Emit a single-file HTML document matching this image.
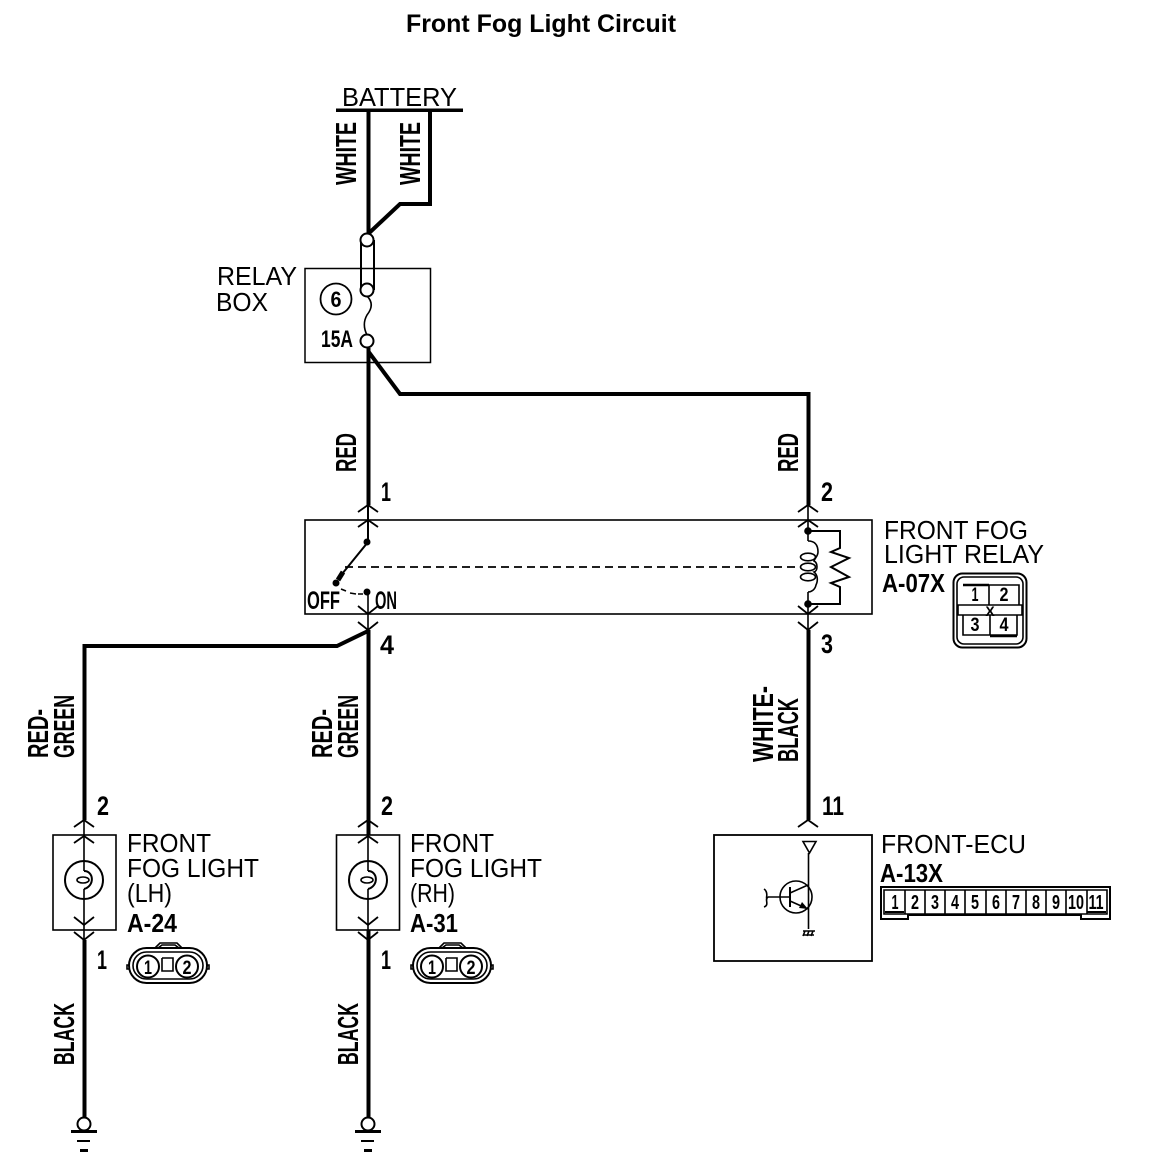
<!DOCTYPE html>
<html><head><meta charset="utf-8"><style>
html,body{margin:0;padding:0;background:#fff}
svg{display:block}
text{font-family:"Liberation Sans",sans-serif;fill:#000}
.t{font-size:26px}
.b{font-weight:bold;font-size:26px}
.r{font-weight:bold;font-size:29px}
.d{font-weight:bold;font-size:27px}
.n{font-weight:bold;font-size:19px}
.w{fill:none;stroke:#000;stroke-width:4;stroke-linejoin:miter}
.l{fill:none;stroke:#000;stroke-width:1.6}
.m{fill:none;stroke:#000;stroke-width:2}
</style></head><body>
<svg width="1152" height="1174" viewBox="0 0 1152 1174" xmlns="http://www.w3.org/2000/svg">
<defs>
<path id="up" d="M-10 7L0 0L10 7" fill="none" stroke="#000" stroke-width="1.800"/>
<path id="dn" d="M-10 -8L0 0L10 -8" fill="none" stroke="#000" stroke-width="1.800"/>
<g id="gnd"><circle cx="0" cy="0" r="6.500" fill="#fff" stroke="#000" stroke-width="2"/><rect x="-13" y="6" width="26" height="3"/><rect x="-7" y="16" width="13" height="2"/><rect x="-4" y="25" width="8" height="3"/></g>
<g id="conn2">
<path d="M-13 -17L-8 -22H9L14 -17" class="l"/><path d="M-10 -17L-6 -20H7L11 -17" class="l"/>
<rect x="-39" y="-17" width="78" height="35" rx="17.500" fill="#fff" stroke="#000" stroke-width="2"/>
<rect x="-35" y="-13" width="70" height="27" rx="13.500" class="l"/>
<path d="M-39 0h-2v4h2M39 0h2v4h-2" class="l"/>
<circle cx="-20" cy="1.500" r="11" fill="#fff" stroke="#000" stroke-width="2"/><circle cx="19" cy="1.500" r="11" fill="#fff" stroke="#000" stroke-width="2"/>
<path d="M-6 -7V6H5V-7H-6" class="l"/>
<text x="-20" y="9" class="n" font-size="21" text-anchor="middle" textLength="8" lengthAdjust="spacingAndGlyphs">1</text>
<text x="19" y="9" class="n" font-size="21" text-anchor="middle" textLength="9" lengthAdjust="spacingAndGlyphs">2</text>
</g>
<g id="lamp"><circle cx="0" cy="0" r="19" class="m"/><path d="M0 -9C10 -9 11 6 0 9" class="m"/><ellipse cx="-1" cy="0" rx="6" ry="3" class="l"/></g>
</defs>

<text x="406" y="32" font-weight="bold" font-size="25" textLength="270" lengthAdjust="spacingAndGlyphs">Front Fog Light Circuit</text>

<!-- battery -->
<text x="342" y="106" class="t" textLength="115" lengthAdjust="spacingAndGlyphs">BATTERY</text>
<rect x="336" y="108.500" width="127" height="3.500"/>
<path class="w" d="M368.500 110V236"/>
<path class="w" d="M430 110V204H400L367 235"/>
<text transform="translate(356,185) rotate(-90)" class="r" textLength="63" lengthAdjust="spacingAndGlyphs">WHITE</text>
<text transform="translate(420,185) rotate(-90)" class="r" textLength="63" lengthAdjust="spacingAndGlyphs">WHITE</text>

<!-- relay box -->
<rect x="305" y="268.500" width="125.500" height="94" fill="#fff" stroke="#000" stroke-width="1.500"/>
<text x="217" y="285" class="t" textLength="80" lengthAdjust="spacingAndGlyphs">RELAY</text>
<text x="216" y="311" class="t" textLength="52" lengthAdjust="spacingAndGlyphs">BOX</text>
<path d="M361 240V290M374 240V290" class="m"/>
<circle cx="367" cy="240" r="6.500" fill="#fff" stroke="#000" stroke-width="2"/>
<circle cx="367" cy="290" r="6.500" fill="#fff" stroke="#000" stroke-width="2"/>
<path d="M367 296C374 303 371 310 367 315C363 322 364 329 367 335" class="l"/>
<circle cx="367" cy="341" r="6.500" fill="#fff" stroke="#000" stroke-width="2"/>
<circle cx="336" cy="299" r="15.500" fill="#fff" stroke="#000" stroke-width="1.800"/>
<text x="336" y="307" text-anchor="middle" font-weight="bold" font-size="22" textLength="11" lengthAdjust="spacingAndGlyphs">6</text>
<text x="321" y="347" font-weight="bold" font-size="24" textLength="32" lengthAdjust="spacingAndGlyphs">15A</text>

<!-- top wires -->
<path class="w" d="M368.500 348V505"/>
<path class="w" d="M368 351L400 394H808.500V505"/>
<text transform="translate(356,472) rotate(-90)" class="r" textLength="39" lengthAdjust="spacingAndGlyphs">RED</text>
<text transform="translate(798,472) rotate(-90)" class="r" textLength="39" lengthAdjust="spacingAndGlyphs">RED</text>
<text x="381" y="501" class="d" textLength="10" lengthAdjust="spacingAndGlyphs">1</text>
<text x="821" y="501" class="d" textLength="12" lengthAdjust="spacingAndGlyphs">2</text>

<!-- relay -->
<rect x="305" y="520" width="567" height="94" fill="#fff" stroke="#000" stroke-width="1.600"/>
<use href="#up" x="368" y="505"/><use href="#up" x="368" y="520"/>
<use href="#up" x="808" y="505"/><use href="#up" x="808" y="520"/>
<path d="M368 505V542L342 574" fill="none" stroke="#000" stroke-width="2"/>
<path d="M343 572L338 580" fill="none" stroke="#000" stroke-width="5"/>
<circle cx="367" cy="542" r="3.500"/><circle cx="336" cy="583" r="3.500"/>
<path d="M345 567H800" fill="none" stroke="#000" stroke-width="1.800" stroke-dasharray="8 5"/>
<path d="M341 589L346 591M350 593L356 594M358 594H363" class="l"/>
<circle cx="367" cy="592" r="3.500"/>
<path d="M368 592V635" class="l"/>
<use href="#dn" x="368" y="614"/><use href="#dn" x="368" y="630"/>
<text x="307" y="609" font-weight="bold" font-size="25" textLength="33" lengthAdjust="spacingAndGlyphs">OFF</text>
<text x="375" y="609" font-weight="bold" font-size="25" textLength="22" lengthAdjust="spacingAndGlyphs">ON</text>
<path d="M808 505V541M808 592V630" class="l"/>
<circle cx="808" cy="531" r="3.800"/><circle cx="808" cy="604" r="3.800"/>
<path d="M808 531H840V548L831 552L849 558L831 567L849 577L831 583L840 587V604H808" class="m"/>
<path d="M808 541C816 541 818 546 818 552C818 556 815 558 814 561C818 563 818 571 814 572C818 575 818 581 816 585C815 590 811 592 808 592" class="l"/>
<ellipse cx="808" cy="557" rx="7.500" ry="3.800" class="l"/><ellipse cx="808" cy="567" rx="7.500" ry="3.800" class="l"/><ellipse cx="808" cy="577" rx="7.500" ry="3.800" class="l"/>
<use href="#dn" x="808" y="614"/><use href="#dn" x="808" y="630"/>
<text x="884" y="539" class="t" textLength="144" lengthAdjust="spacingAndGlyphs">FRONT FOG</text>
<text x="884" y="563" class="t" textLength="160" lengthAdjust="spacingAndGlyphs">LIGHT RELAY</text>
<text x="882" y="592" class="b" textLength="63" lengthAdjust="spacingAndGlyphs">A-07X</text>

<!-- connector 4 -->
<rect x="953.500" y="573.500" width="73" height="74" rx="9" class="m"/>
<rect x="957" y="577" width="66" height="67" rx="7" class="l"/>
<path d="M963 585H989V605M989 585H1019V605M958 605H1022V615H958ZM963 615V635H990V615M990 635H1017V615" class="l"/>
<path d="M963 585H989M990 636H1017" fill="none" stroke="#000" stroke-width="2.500"/>
<text x="975" y="601" class="n" text-anchor="middle" textLength="7" lengthAdjust="spacingAndGlyphs">1</text>
<text x="1004" y="601" class="n" text-anchor="middle" textLength="9" lengthAdjust="spacingAndGlyphs">2</text>
<text x="990" y="616" font-size="14" font-weight="bold" text-anchor="middle">X</text>
<text x="975" y="631" class="n" text-anchor="middle" textLength="9" lengthAdjust="spacingAndGlyphs">3</text>
<text x="1004" y="631" class="n" text-anchor="middle" textLength="9" lengthAdjust="spacingAndGlyphs">4</text>

<!-- lower wires -->
<path class="w" d="M368.500 630V1118"/>
<path class="w" d="M368 631L337 646H84.500V820"/>
<path class="w" d="M84.500 940V1118"/>
<path class="w" d="M808.500 630V820"/>
<text x="380" y="654" class="d" textLength="14" lengthAdjust="spacingAndGlyphs">4</text>
<text x="821" y="653" class="d" textLength="12" lengthAdjust="spacingAndGlyphs">3</text>

<text transform="translate(48,758) rotate(-90)" class="r" textLength="49" lengthAdjust="spacingAndGlyphs">RED-</text>
<text transform="translate(74,758) rotate(-90)" class="r" textLength="63" lengthAdjust="spacingAndGlyphs">GREEN</text>
<text transform="translate(332,758) rotate(-90)" class="r" textLength="49" lengthAdjust="spacingAndGlyphs">RED-</text>
<text transform="translate(358,758) rotate(-90)" class="r" textLength="63" lengthAdjust="spacingAndGlyphs">GREEN</text>
<text transform="translate(773,762) rotate(-90)" class="r" textLength="76" lengthAdjust="spacingAndGlyphs">WHITE-</text>
<text transform="translate(798,762) rotate(-90)" class="r" textLength="64" lengthAdjust="spacingAndGlyphs">BLACK</text>
<text transform="translate(74,1065) rotate(-90)" class="r" textLength="62" lengthAdjust="spacingAndGlyphs">BLACK</text>
<text transform="translate(358,1065) rotate(-90)" class="r" textLength="62" lengthAdjust="spacingAndGlyphs">BLACK</text>

<!-- LH -->
<text x="97" y="815" class="d" textLength="12" lengthAdjust="spacingAndGlyphs">2</text>
<rect x="53" y="835" width="63" height="95" fill="#fff" stroke="#000" stroke-width="1.600"/>
<use href="#up" x="84" y="820"/><use href="#up" x="84" y="836"/>
<use href="#dn" x="84" y="925"/><use href="#dn" x="84" y="940"/>
<path d="M84 820V871M84 889V940" class="l"/>
<use href="#lamp" x="84" y="880"/>
<text x="97" y="969" class="d" textLength="10" lengthAdjust="spacingAndGlyphs">1</text>
<text x="127" y="852" class="t" textLength="84" lengthAdjust="spacingAndGlyphs">FRONT</text>
<text x="127" y="877" class="t" textLength="132" lengthAdjust="spacingAndGlyphs">FOG LIGHT</text>
<text x="127" y="902" class="t" textLength="45" lengthAdjust="spacingAndGlyphs">(LH)</text>
<text x="127" y="932" class="b" textLength="50" lengthAdjust="spacingAndGlyphs">A-24</text>
<use href="#conn2" x="168" y="965"/>
<use href="#gnd" x="84" y="1124"/>

<!-- RH -->
<text x="381" y="815" class="d" textLength="12" lengthAdjust="spacingAndGlyphs">2</text>
<rect x="336.500" y="835" width="63" height="95" fill="#fff" stroke="#000" stroke-width="1.600"/>
<use href="#up" x="368" y="820"/><use href="#up" x="368" y="836"/>
<use href="#dn" x="368" y="925"/><use href="#dn" x="368" y="940"/>
<path d="M368 820V871M368 889V940" class="l"/>
<use href="#lamp" x="368" y="880"/>
<text x="381" y="969" class="d" textLength="10" lengthAdjust="spacingAndGlyphs">1</text>
<text x="410" y="852" class="t" textLength="84" lengthAdjust="spacingAndGlyphs">FRONT</text>
<text x="410" y="877" class="t" textLength="132" lengthAdjust="spacingAndGlyphs">FOG LIGHT</text>
<text x="410" y="902" class="t" textLength="45" lengthAdjust="spacingAndGlyphs">(RH)</text>
<text x="410" y="932" class="b" textLength="48" lengthAdjust="spacingAndGlyphs">A-31</text>
<use href="#conn2" x="452" y="965"/>
<use href="#gnd" x="368" y="1124"/>

<!-- ECU -->
<text x="822" y="815" class="d" textLength="22" lengthAdjust="spacingAndGlyphs">11</text>
<use href="#up" x="808" y="820"/>
<rect x="714" y="835" width="158" height="126" fill="#fff" stroke="#000" stroke-width="1.800"/>
<path d="M803 841.500H816L809.500 853Z" class="l"/>
<path d="M808.500 853V929" class="l"/>
<circle cx="796" cy="897" r="16" class="l"/>
<path d="M790 887V907" fill="none" stroke="#000" stroke-width="2"/>
<path d="M768 897H790M790 893L808 885M790 901L808 909" class="l"/>
<path d="M808 909L799 908L802 902Z"/>
<path d="M764 889C770 893 764 901 768 897C764 899 770 905 764 907" class="l"/>
<path d="M803 931H815M804 935H814M805 931L803 936M809 931L807 936M813 931L811 936" class="l"/>
<text x="881" y="853" class="t" textLength="145" lengthAdjust="spacingAndGlyphs">FRONT-ECU</text>
<text x="880" y="882" class="b" textLength="63" lengthAdjust="spacingAndGlyphs">A-13X</text>
<path d="M881 887H1110V919H1081V915H908V919H881Z" class="m"/>
<path d="M884 890H1107V914H884Z" class="l"/>
<path d="M905 890V914M925 890V914M945 890V914M965 890V914M986 890V914M1006 890V914M1026 890V914M1046 890V914M1066 890V914M1087 890V914" class="l"/>
<path d="M885 912H904M1087 912H1106" class="m"/>
<g text-anchor="middle" font-weight="bold" font-size="20">
<text x="895" y="909" textLength="7" lengthAdjust="spacingAndGlyphs">1</text>
<text x="915" y="909" textLength="8" lengthAdjust="spacingAndGlyphs">2</text>
<text x="935" y="909" textLength="8" lengthAdjust="spacingAndGlyphs">3</text>
<text x="955" y="909" textLength="8" lengthAdjust="spacingAndGlyphs">4</text>
<text x="975" y="909" textLength="8" lengthAdjust="spacingAndGlyphs">5</text>
<text x="996" y="909" textLength="8" lengthAdjust="spacingAndGlyphs">6</text>
<text x="1016" y="909" textLength="8" lengthAdjust="spacingAndGlyphs">7</text>
<text x="1036" y="909" textLength="8" lengthAdjust="spacingAndGlyphs">8</text>
<text x="1056" y="909" textLength="8" lengthAdjust="spacingAndGlyphs">9</text>
<text x="1076" y="909" textLength="16" lengthAdjust="spacingAndGlyphs">10</text>
<text x="1096" y="909" textLength="15" lengthAdjust="spacingAndGlyphs">11</text>
</g>
</svg>
</body></html>
